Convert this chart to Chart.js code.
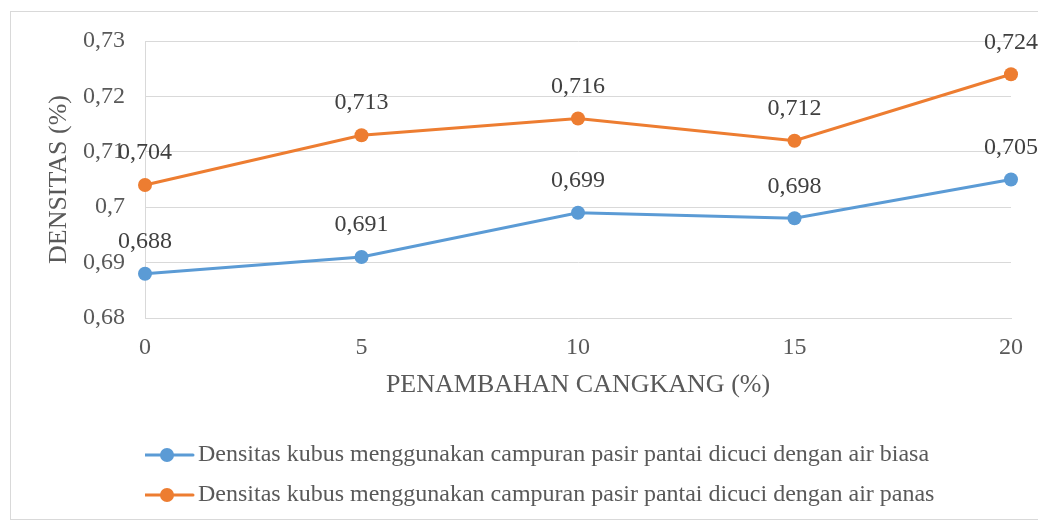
<!DOCTYPE html>
<html>
<head>
<meta charset="utf-8">
<script src="https://cdn.jsdelivr.net/npm/chart.js@4.4.0/dist/chart.umd.min.js"></script>
<style>
  html, body { margin: 0; padding: 0; background: #fff; }
  #wrap { width: 1038px; height: 521px; }
</style>
</head>
<body>
<div id="wrap"><canvas id="myChart"></canvas></div>
<script>
// data
const categories = ['0', '5', '10', '15', '20'];
const airBiasa = [0.688, 0.691, 0.699, 0.698, 0.705];
const airPanas = [0.704, 0.713, 0.716, 0.712, 0.724];
const seriesNames = [
  'Densitas kubus menggunakan campuran pasir pantai dicuci dengan air biasa',
  'Densitas kubus menggunakan campuran pasir pantai dicuci dengan air panas'
];
const yMin = 0.68, yMax = 0.73, yStep = 0.01;

const BLUE = '#5B9BD5';
const ORANGE = '#ED7D31';
const TEXT = '#595959';
const GRID = '#D9D9D9';
const FONT = "'Liberation Serif', 'Times New Roman', serif";

const comma = (v, d) => String(Number(v.toFixed(d))).replace('.', ',');

// legend marker: short line with a dot. The image is wider than the line
// so it sits left of where chart.js would centre it.
function makeMarker(color) {
  const c = document.createElement('canvas');
  c.width = 71; c.height = 16;
  const g = c.getContext('2d');
  g.strokeStyle = color; g.lineWidth = 3; g.lineCap = 'round';
  g.beginPath(); g.moveTo(3, 8); g.lineTo(55, 8); g.stroke();
  g.fillStyle = color;
  g.beginPath(); g.arc(29, 8, 7, 0, Math.PI * 2); g.fill();
  return c;
}
const markers = [makeMarker(BLUE), makeMarker(ORANGE)];

// value labels above each point
const pointLabels = {
  id: 'pointLabels',
  afterDatasetsDraw(chart) {
    const ctx = chart.ctx;
    ctx.save();
    ctx.font = '24px ' + FONT;
    ctx.fillStyle = '#404040';
    ctx.textAlign = 'center';
    ctx.textBaseline = 'middle';
    chart.data.datasets.forEach((ds, i) => {
      chart.getDatasetMeta(i).data.forEach((pt, j) => {
        ctx.fillText(comma(ds.data[j], 3), pt.x, pt.y - 32);
      });
    });
    ctx.restore();
  }
};

// outer chart border (only the top/left edges show in the crop)
const frame = {
  id: 'frame',
  beforeDraw(chart) {
    const ctx = chart.ctx;
    ctx.save();
    ctx.strokeStyle = GRID;
    ctx.lineWidth = 1;
    ctx.strokeRect(10.5, 11.5, 1100, 508);
    ctx.restore();
  }
};

new Chart(document.getElementById('myChart'), {
  type: 'line',
  data: {
    labels: categories,
    datasets: [
      { label: seriesNames[0], data: airBiasa, borderColor: BLUE, backgroundColor: BLUE,
        borderWidth: 3, pointRadius: 7, pointHoverRadius: 7, pointBackgroundColor: BLUE,
        pointBorderWidth: 0, tension: 0 },
      { label: seriesNames[1], data: airPanas, borderColor: ORANGE, backgroundColor: ORANGE,
        borderWidth: 3, pointRadius: 7, pointHoverRadius: 7, pointBackgroundColor: ORANGE,
        pointBorderWidth: 0, tension: 0 }
    ]
  },
  options: {
    responsive: true,
    maintainAspectRatio: false,
    animation: false,
    layout: { padding: { left: 0, right: 25, top: 41, bottom: 4 } },
    plugins: {
      tooltip: { enabled: false },
      legend: {
        position: 'bottom',
        align: 'start',
        fullSize: false,
        labels: {
          usePointStyle: true,
          pointStyleWidth: 25,
          padding: 16,
          color: TEXT,
          font: { family: FONT, size: 24 },
          generateLabels(chart) {
            const items = Chart.defaults.plugins.legend.labels.generateLabels(chart);
            items.forEach((it, i) => { it.pointStyle = markers[i]; });
            return items;
          }
        }
      }
    },
    scales: {
      x: {
        offset: false,
        afterFit(s) { s.height = 109; },
        grid: { display: false, drawTicks: false },
        border: { display: true, color: GRID, width: 1 },
        ticks: { color: TEXT, padding: 15, font: { family: FONT, size: 24 } },
        title: { display: true, text: 'PENAMBAHAN CANGKANG (%)', color: TEXT,
                 font: { family: FONT, size: 26 }, padding: { top: 0, bottom: 26.4 } }
      },
      y: {
        min: yMin, max: yMax,
        afterFit(s) { s.width = 145; },
        grid: { color: GRID, drawTicks: false },
        border: { display: true, color: GRID, width: 1 },
        ticks: { stepSize: yStep, color: TEXT, padding: 20, font: { family: FONT, size: 24 },
                 callback: v => comma(v, 2) },
        title: { display: true, text: 'DENSITAS (%)', color: TEXT,
                 font: { family: FONT, size: 26 }, padding: { top: 44, bottom: 0 } }
      }
    }
  },
  plugins: [pointLabels, frame]
});
</script>
</body>
</html>
